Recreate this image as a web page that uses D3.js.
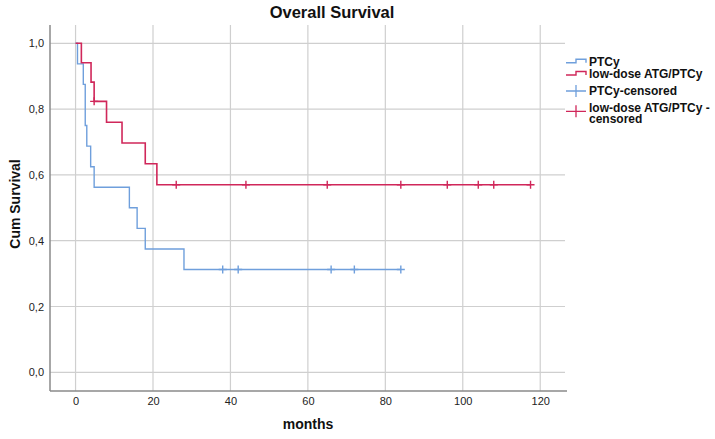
<!DOCTYPE html>
<html>
<head>
<meta charset="utf-8">
<script src="https://cdn.jsdelivr.net/npm/d3@7/dist/d3.min.js"></script>
<style>
  html, body { margin: 0; padding: 0; background: #fff; }
  svg { display: block; font-family: "Liberation Sans", Arial, sans-serif; }
</style>
</head>
<body>
<svg id="chart" width="715" height="439"></svg>
<script>
// ---- data ----
const xTicks = [0, 20, 40, 60, 80, 100, 120];
const yTicks = [0, 0.2, 0.4, 0.6, 0.8, 1.0];

const ptcyTimes = [0, 0.5, 2, 2.5, 2.9, 3.9, 4.8, 13.9, 15.9, 18, 28, 84];
const ptcySurv  = [1, 0.9375, 0.875, 0.75, 0.6875, 0.625, 0.5625, 0.5, 0.4375, 0.375, 0.3125, 0.3125];
const ptcyCensTimes = [38, 42, 66, 72, 84];
const ptcyCensSurv  = [0.3125, 0.3125, 0.3125, 0.3125, 0.3125];

const atgTimes = [0, 1.5, 4, 4.8, 8, 12, 18, 21, 117.5];
const atgSurv  = [1, 0.941, 0.882, 0.8235, 0.760, 0.697, 0.634, 0.570, 0.570];
const atgCensTimes = [4.8, 26, 44, 65, 84, 96, 104, 108, 117.5];
const atgCensSurv  = [0.8235, 0.570, 0.570, 0.570, 0.570, 0.570, 0.570, 0.570, 0.570];

const legendLabels = ["PTCy", "low-dose ATG/PTCy", "PTCy-censored", ["low-dose ATG/PTCy -", "censored"]];

// ---- layout ----
const blue = "#6f9fdc";
const red = "#d0275a";
const pLeft = 50, pRight = 565, pTop = 25, pBottom = 391;

const svg = d3.select("#chart");
const x = d3.scaleLinear().domain([-6.6, 126.4]).range([pLeft, pRight]);
const y = d3.scaleLinear().domain([-0.0568, 1.0556]).range([pBottom, pTop]);

// grid
svg.append("g").selectAll("line").data(xTicks).join("line")
  .attr("x1", d => x(d)).attr("x2", d => x(d))
  .attr("y1", pTop).attr("y2", pBottom)
  .attr("stroke", "#cfcfcf").attr("stroke-width", 1.2);
svg.append("g").selectAll("line").data(yTicks).join("line")
  .attr("x1", pLeft).attr("x2", pRight)
  .attr("y1", d => y(d)).attr("y2", d => y(d))
  .attr("stroke", "#cfcfcf").attr("stroke-width", 1.2);

// axes
const xAxis = d3.axisBottom(x).tickValues(xTicks).tickSize(0).tickPadding(6).tickFormat(d3.format("d"));
const yAxis = d3.axisLeft(y).tickValues(yTicks).tickSize(0).tickPadding(6)
  .tickFormat(d => d3.format(".1f")(d).replace(".", ","));

const gx = svg.append("g").attr("transform", `translate(0,${pBottom})`).call(xAxis);
gx.select(".domain").attr("d", `M${pLeft},0H${pRight + 2}`).attr("stroke", "#8a8a8a").attr("stroke-width", 1.5);
gx.selectAll("text").attr("font-size", 11).attr("fill", "#222").attr("font-family", "Liberation Sans, Arial, sans-serif");

const gy = svg.append("g").attr("transform", `translate(${pLeft},0)`).call(yAxis);
gy.select(".domain").attr("d", `M0,${pTop}V${pBottom}`).attr("stroke", "#8a8a8a").attr("stroke-width", 1.5);
gy.selectAll("text").attr("font-size", 11).attr("fill", "#222").attr("font-family", "Liberation Sans, Arial, sans-serif");

// curves
const line = d3.line().x(d => x(d[0])).y(d => y(d[1])).curve(d3.curveStepAfter);
const ptcyPts = ptcyTimes.map((t, i) => [t, ptcySurv[i]]);
const atgPts = atgTimes.map((t, i) => [t, atgSurv[i]]);

svg.append("path").attr("d", line(ptcyPts)).attr("fill", "none").attr("stroke", blue).attr("stroke-width", 1.4);
svg.append("path").attr("d", line(atgPts)).attr("fill", "none").attr("stroke", red).attr("stroke-width", 1.6);

function crosses(times, surv, color) {
  const pts = times.map((t, i) => [t, surv[i]]);
  svg.append("g").selectAll("path").data(pts).join("path")
    .attr("d", d => `M${x(d[0]) - 4},${y(d[1])}h8M${x(d[0])},${y(d[1]) - 4}v8`)
    .attr("stroke", color).attr("stroke-width", 1.4).attr("fill", "none");
}
crosses(ptcyCensTimes, ptcyCensSurv, blue);
crosses(atgCensTimes, atgCensSurv, red);

// title & labels
svg.append("text").attr("x", 332).attr("y", 18).attr("text-anchor", "middle")
  .attr("font-size", 16.5).attr("font-weight", "bold").attr("fill", "#111").text("Overall Survival");
svg.append("text").attr("x", 308).attr("y", 429).attr("text-anchor", "middle")
  .attr("font-size", 14).attr("font-weight", "bold").attr("fill", "#111").text("months");
svg.append("text").attr("transform", "translate(20,204) rotate(-90)").attr("text-anchor", "middle")
  .attr("font-size", 14).attr("font-weight", "bold").attr("fill", "#111").text("Cum Survival");

// legend
const lg = svg.append("g");
const lx = 566, tx = 589;
const rows = [61.7, 74, 91, 107.3];
[blue, red].forEach((c, i) => {
  const yy = rows[i] + 1;
  lg.append("path").attr("d", `M${lx},${yy}H${lx + 10}V${yy - 3.5}H${lx + 20}V${yy}`)
    .attr("fill", "none").attr("stroke", c).attr("stroke-width", 1.4);
});
[blue, red].forEach((c, i) => {
  const yy = rows[i + 2] + (i === 1 ? 4 : 0);
  lg.append("path").attr("d", `M${lx},${yy}H${lx + 20}M${lx + 10},${yy - 6}v12`)
    .attr("fill", "none").attr("stroke", c).attr("stroke-width", 1.3);
});
legendLabels.forEach((lab, i) => {
  const t = lg.append("text").attr("x", tx).attr("y", rows[i] + 4.3)
    .attr("font-size", 12).attr("font-weight", "bold").attr("fill", "#111");
  if (Array.isArray(lab)) {
    lab.forEach((s, j) => t.append("tspan").attr("x", tx).attr("dy", j === 0 ? 0 : 11.4).text(s));
  } else {
    t.text(lab);
  }
});
</script>
</body>
</html>
